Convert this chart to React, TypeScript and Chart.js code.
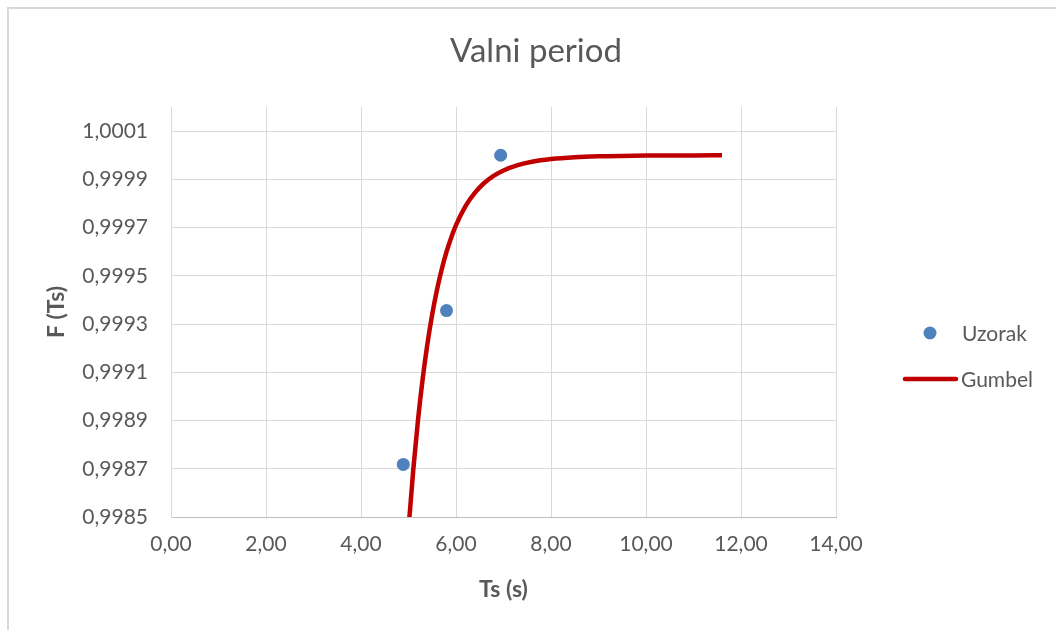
import React, { useEffect, useRef } from "react";
import { Chart, registerables } from "chart.js";

Chart.register(...registerables);

// ---- data ----
const CHART_TITLE = "Valni period";
const X_TITLE = "Ts (s)";
const Y_TITLE = "F (Ts)";
const SAMPLE_LABEL = "Uzorak";
const GUMBEL_LABEL = "Gumbel";

const sampleTs = [4.89, 5.8, 6.94];
const sampleF = [0.998718, 0.999356, 1.0];

const gumbelTs = [4.97, 5.02, 5.1, 5.2, 5.3, 5.4, 5.5, 5.6, 5.7, 5.8, 5.9, 6.0, 6.2, 6.4, 6.6, 6.8, 7.0, 7.3, 7.6, 8.0, 8.5, 9.0, 9.5, 10.0, 11.0, 11.6];
const gumbelF = [
  0.998362, 0.9985, 0.998695, 0.998902, 0.999075, 0.99922, 0.999341, 0.999442, 0.999527, 0.999599, 0.999659,
  0.99971, 0.999789, 0.999845, 0.999886, 0.9999155, 0.999937, 0.999959, 0.999973, 0.999984, 0.9999916,
  0.9999954, 0.9999973, 0.9999984, 0.9999994, 0.9999996,
];

const xTicks = [0, 2, 4, 6, 8, 10, 12, 14];
const yTicks = [0.9985, 0.9987, 0.9989, 0.9991, 0.9993, 0.9995, 0.9997, 0.9999, 1.0001];
const X_MIN = 0;
const X_MAX = 14;
const Y_MIN = 0.9985;
const Y_MAX = 1.0002;

// ---- styles ----
const FONT = "Lato";
const TEXT = "#595959";
const GRID = "#d9d9d9";
const AXIS = "#bfbfbf";
const BLUE = "#4f81bd";
const RED = "#c00000";

const sideLegend = {
  id: "sideLegend",
  afterDraw(chart: any) {
    const { ctx, chartArea } = chart;
    const ds = chart.data.datasets;
    const r = chartArea.right;
    const t = chartArea.top;
    ctx.save();
    ctx.font = `21px ${FONT}`;
    ctx.textAlign = "left";
    ctx.textBaseline = "middle";
    // item 1: marker
    const y1 = t + 226;
    ctx.beginPath();
    ctx.arc(r + 94, y1, 6.5, 0, Math.PI * 2);
    ctx.fillStyle = ds[0].pointBackgroundColor;
    ctx.fill();
    ctx.fillStyle = TEXT;
    ctx.fillText(ds[0].label, r + 126, y1 + 1);
    // item 2: line
    const y2 = t + 272;
    ctx.beginPath();
    ctx.moveTo(r + 69, y2);
    ctx.lineTo(r + 120, y2);
    ctx.strokeStyle = ds[1].borderColor;
    ctx.lineWidth = 4.5;
    ctx.lineCap = "round";
    ctx.stroke();
    ctx.fillText(ds[1].label, r + 125, y2 + 1);
    ctx.restore();
  },
};

const fmt = (v: number, d: number) => Number(v).toFixed(d).replace(".", ",");

export default function App() {
  const ref = useRef<HTMLCanvasElement>(null);

  useEffect(() => {
    let chart: Chart | null = null;
    let cancelled = false;
    const make = () => {
      if (cancelled || !ref.current) return;
      chart = new Chart(ref.current, {
        type: "scatter",
        data: {
          datasets: [
            {
              label: SAMPLE_LABEL,
              data: sampleTs.map((x, i) => ({ x, y: sampleF[i] })),
              pointRadius: 6.5,
              pointBackgroundColor: BLUE,
              pointBorderWidth: 0,
              backgroundColor: BLUE,
              borderColor: BLUE,
              showLine: false,
              yAxisID: "y",
              xAxisID: "x",
            } as any,
            {
              label: GUMBEL_LABEL,
              data: gumbelTs.map((x, i) => ({ x, y: gumbelF[i] })),
              showLine: true,
              borderColor: RED,
              backgroundColor: RED,
              borderWidth: 4.5,
              pointRadius: 0,
              fill: false,
              cubicInterpolationMode: "monotone",
              borderCapStyle: "butt",
              borderJoinStyle: "round",
              yAxisID: "y",
              xAxisID: "x",
            } as any,
          ],
        },
        options: {
          responsive: false,
          animation: false,
          events: [],
          layout: { padding: { left: 16, right: 0, top: 0, bottom: 13 } },
          plugins: {
            legend: { display: false },
            tooltip: { enabled: false },
            title: {
              display: true,
              text: CHART_TITLE,
              color: TEXT,
              font: { family: FONT, size: 33, weight: "normal", lineHeight: 1.2 },
              padding: { top: 32, bottom: 35.4 },
            },
          },
          scales: {
            x: {
              type: "linear",
              position: "bottom",
              min: X_MIN,
              max: X_MAX,
              bounds: "data",
              afterBuildTicks: (s: any) => {
                s.ticks = xTicks.map((v) => ({ value: v }));
              },
              afterFit: (s: any) => {
                s.height = 100;
              },
              grid: { color: GRID, lineWidth: 1, drawTicks: false },
              border: { display: true, color: AXIS, width: 1 },
              ticks: {
                color: TEXT,
                font: { family: FONT, size: 21 },
                padding: 15,
                autoSkip: false,
                maxRotation: 0,
                callback: (v: any) => fmt(v, 2),
              },
              title: {
                display: true,
                text: X_TITLE,
                color: TEXT,
                font: { family: FONT, size: 23, weight: "bold", lineHeight: 1.2 },
                padding: { top: 0, bottom: 14 },
              },
            },
            y: {
              type: "linear",
              position: "left",
              min: Y_MIN,
              max: Y_MAX,
              bounds: "data",
              afterBuildTicks: (s: any) => {
                s.ticks = yTicks.map((v) => ({ value: v }));
              },
              afterFit: (s: any) => {
                s.width = 155;
              },
              grid: { color: GRID, lineWidth: 1, drawTicks: false },
              border: { display: true, color: GRID, width: 1 },
              ticks: {
                color: TEXT,
                font: { family: FONT, size: 21 },
                padding: 23,
                autoSkip: false,
                callback: (v: any) => fmt(v, 4),
              },
              title: {
                display: true,
                text: Y_TITLE,
                color: TEXT,
                font: { family: FONT, size: 23, weight: "bold", lineHeight: 1.2 },
                padding: { top: 27, bottom: 0 },
              },
            },
            legendSpace: {
              type: "linear",
              position: "right",
              display: true,
              grid: { display: false, drawTicks: false },
              border: { display: false },
              ticks: { display: false },
              afterFit: (s: any) => {
                s.width = 220;
              },
            },
          },
        } as any,
        plugins: [sideLegend],
      });
    };
    const fonts = (document as any).fonts;
    if (fonts && fonts.load) {
      Promise.all([fonts.load(`21px ${FONT}`), fonts.load(`bold 23px ${FONT}`)]).then(make, make);
    } else {
      make();
    }
    return () => {
      cancelled = true;
      if (chart) chart.destroy();
      chart = null;
    };
  }, []);

  return (
    <div
      style={{
        position: "fixed",
        left: 0,
        top: 0,
        width: 1056,
        height: 630,
        overflow: "hidden",
        background: "#ffffff",
      }}
    >
      <div
        style={{
          position: "absolute",
          left: 7,
          top: 7,
          width: 1200,
          height: 800,
          border: `2px solid ${GRID}`,
          boxSizing: "border-box",
        }}
      />
      <canvas
        ref={ref}
        width={1056}
        height={630}
        style={{ position: "absolute", left: 0, top: 0, width: 1056, height: 630, display: "block" }}
      />
    </div>
  );
}
